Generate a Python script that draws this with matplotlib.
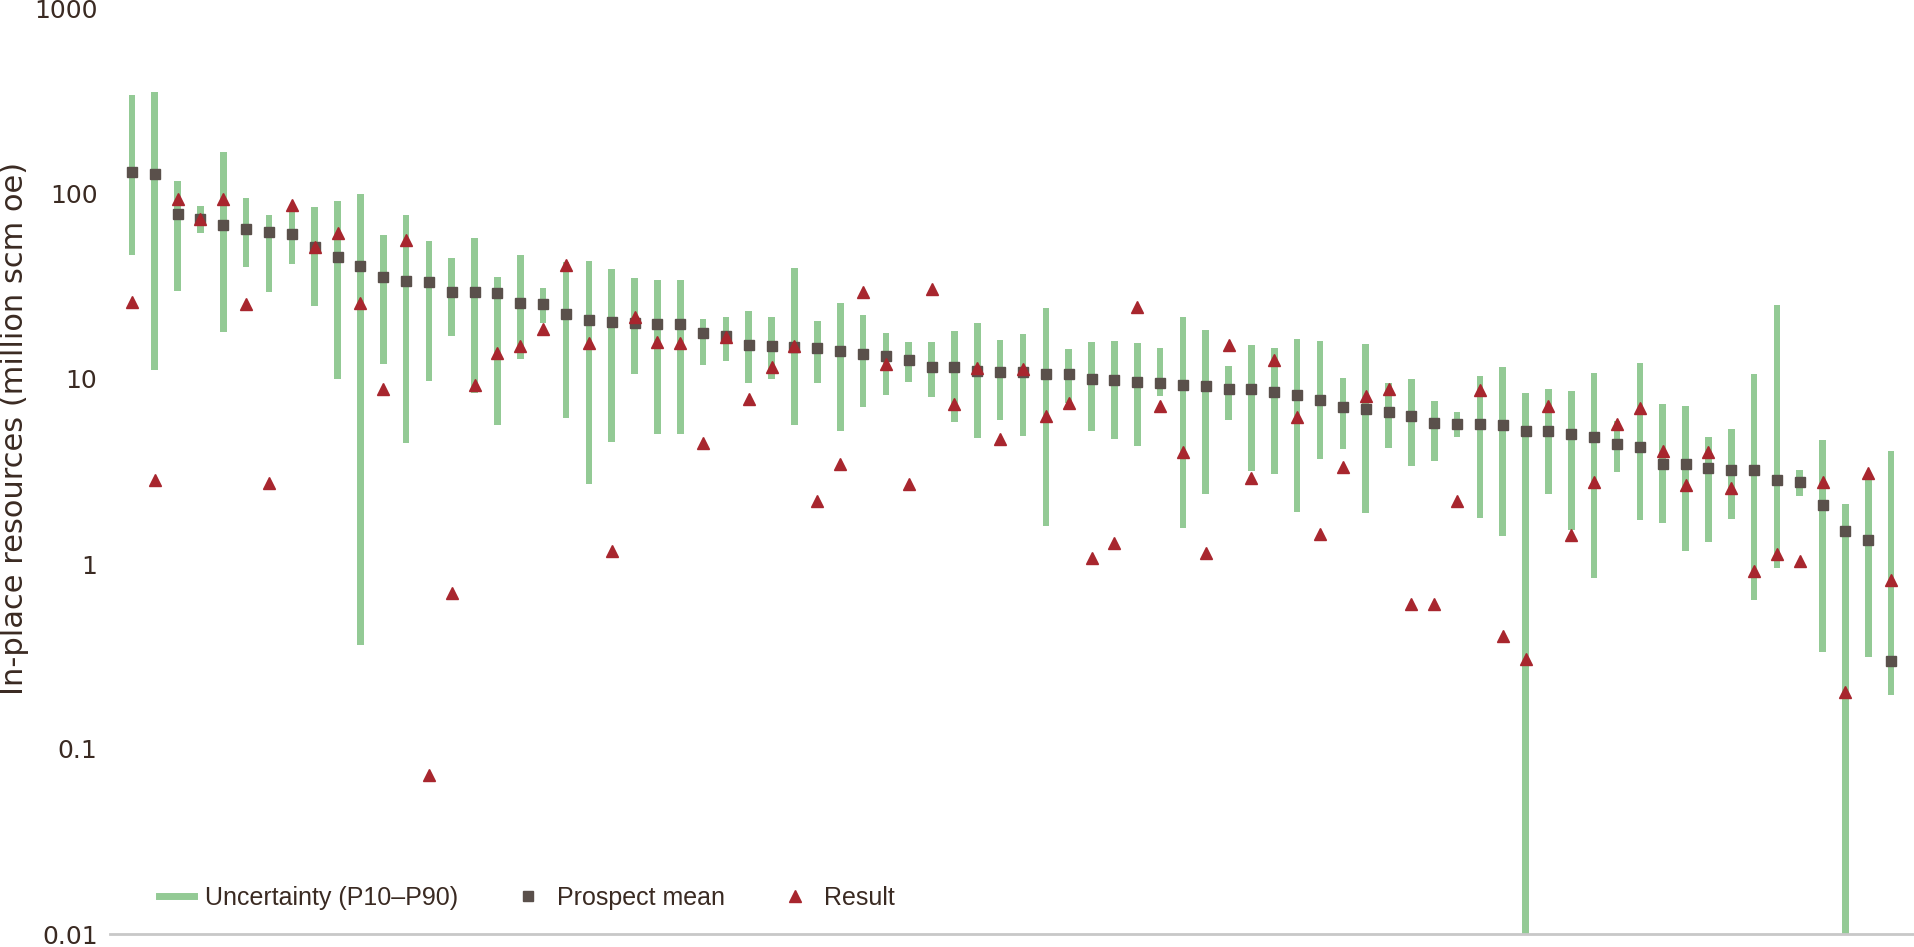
import numpy as np
import matplotlib
matplotlib.use("Agg")
import matplotlib.pyplot as plt
from matplotlib.lines import Line2D

# values (million scm oe), one entry per prospect
p90 = [46.6, 11.2, 29.9, 61.7, 18.0, 40.3, 29.4, 42.1, 24.9, 9.96,
       0.366, 12.1, 4.51, 9.8, 17.0, 8.37, 5.61, 12.8, 20.0, 6.12,
       2.70, 4.58, 10.7, 5.02, 5.02, 11.9, 12.5, 9.52, 9.96, 5.61,
       9.48, 5.25, 7.1, 8.17, 9.68, 8.04, 5.87, 4.82, 6.04, 4.9,
       1.61, 7.4, 5.21, 4.75, 4.36, 8.1, 1.57, 2.39, 6.0, 3.19,
       3.06, 1.91, 3.68, 4.2, 1.89, 4.22, 3.39, 3.62, 4.88, 1.78,
       1.41, 0.001, 2.38, 1.53, 0.84, 3.13, 1.73, 1.66, 1.17, 1.31,
       1.75, 0.64, 0.95, 2.33, 0.335, 0.001, 0.315, 0.196]
p10 = [342, 358, 118, 86.2, 168, 95.2, 77.1, 80.7, 85.5, 91.3,
       100.4, 60.4, 77.1, 55.9, 45.1, 57.8, 35.6, 46.8, 31.2, 42.9,
       43.3, 39.5, 35.3, 34.5, 34.5, 21.0, 21.6, 23.4, 21.6, 39.7,
       20.6, 25.8, 22.2, 17.7, 15.9, 15.9, 18.2, 20.1, 16.2, 17.5,
       24.1, 14.6, 15.8, 16.1, 15.7, 14.8, 21.7, 18.3, 11.8, 15.3,
       14.8, 16.5, 16.1, 10.1, 15.5, 9.5, 10.0, 7.62, 6.62, 10.4,
       11.6, 8.37, 8.87, 8.65, 10.8, 5.92, 12.2, 7.34, 7.19, 4.88,
       5.34, 10.7, 25.2, 3.24, 4.68, 2.1, 3.0, 4.1]
mean = [131, 128.6, 78, 73.4, 67.9, 64.3, 62.7, 61, 51.7, 45.6,
        41, 35.6, 33.9, 33.5, 29.5, 29.5, 29.1, 25.8, 25.4, 22.4,
        20.8, 20.3, 20.2, 19.8, 19.8, 17.8, 17.1, 15.2, 15.0, 14.9,
        14.8, 14.2, 13.6, 13.3, 12.6, 11.6, 11.6, 11.1, 10.9, 10.9,
        10.7, 10.6, 10.0, 9.84, 9.6, 9.55, 9.33, 9.2, 8.87, 8.87,
        8.51, 8.17, 7.71, 7.07, 6.9, 6.67, 6.32, 5.78, 5.73, 5.7,
        5.61, 5.23, 5.21, 5.06, 4.86, 4.45, 4.29, 3.46, 3.46, 3.3,
        3.24, 3.24, 2.86, 2.78, 2.08, 1.50, 1.35, 0.298]
result = [26.2, 2.83, 94, 73, 94, 25.4, 2.74, 87.3, 52, 61.5,
          25.8, 8.87, 56.3, 0.072, 0.70, 9.25, 13.9, 15.0, 18.7, 41.2,
          15.6, 1.17, 21.5, 15.9, 15.6, 4.53, 16.8, 7.84, 11.6, 15.1,
          2.18, 3.46, 29.4, 12.0, 2.72, 30.8, 7.34, 11.5, 4.75, 11.3,
          6.3, 7.43, 1.08, 1.30, 24.5, 7.19, 4.05, 1.15, 15.2, 2.9,
          12.6, 6.25, 1.46, 3.35, 8.13, 8.87, 0.61, 0.61, 2.19, 8.77,
          0.41, 0.306, 7.13, 1.44, 2.77, 5.68, 6.98, 4.1, 2.68, 4.05,
          2.57, 0.92, 1.13, 1.04, 2.77, 0.204, 3.11, 0.82]
ticks = [0.01, 0.1, 1, 10, 100, 1000]
tick_labels = ["0.01", "0.1", "1", "10", "100", "1000"]
labels = ["Uncertainty (P10\u2013P90)", "Prospect mean", "Result"]

green = "#93ca95"
grey = "#5a504b"
red = "#a8262e"
txt = "#3a2a22"

x = np.arange(len(mean))
lo = np.array(p90)
hi = np.array(p10)

fig = plt.figure(figsize=(19.14, 9.47), dpi=100)
ax = fig.add_axes([110 / 1914, 13 / 947, 1 - 110 / 1914, 925 / 947])

# P10-P90 range as thin bars, then means and results on top
ax.bar(x, hi - lo, bottom=lo, width=0.29, color=green, zorder=1)
ax.plot(x, mean, linestyle="none", marker="s", markersize=6.5, color=grey, zorder=2)
ax.plot(x, result, linestyle="none", marker="^", markersize=9, color=red, zorder=3)

ax.set_yscale("log")
ax.set_ylim(0.01, 1000)
ax.set_xlim(-0.96, 78.0)
ax.set_yticks(ticks)
ax.set_yticklabels(tick_labels)
ax.minorticks_off()
ax.set_xticks([])
ax.tick_params(axis="y", length=0, pad=9, labelsize=18, labelcolor=txt)

for s in ["left", "right", "top"]:
    ax.spines[s].set_visible(False)
ax.spines["bottom"].set_color("#c8c8c8")
ax.spines["bottom"].set_linewidth(2)

fig.text(15 / 1914, 1 - 428 / 947, "In-place resources (million scm oe)",
         rotation=90, ha="center", va="center", fontsize=22, color=txt)

handles = [
    Line2D([], [], color=green, linewidth=5),
    Line2D([], [], linestyle="none", marker="s", markersize=6.5, color=grey),
    Line2D([], [], linestyle="none", marker="^", markersize=9, color=red),
]
leg = ax.legend(handles, labels, loc="center left", bbox_to_anchor=(0.0145, 0.039),
                ncol=3, frameon=False, handlelength=1.4, handletextpad=0.45,
                columnspacing=2.1, prop={"family": ["Liberation Sans", "DejaVu Sans"], "size": 18})
for t in leg.get_texts():
    t.set_color(txt)

fig.savefig("out.png", dpi=100)
